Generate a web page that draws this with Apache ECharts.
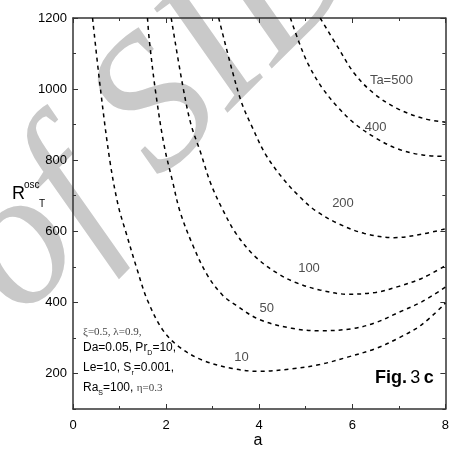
<!DOCTYPE html>
<html><head><meta charset="utf-8">
<script src="https://cdn.jsdelivr.net/npm/echarts@6/dist/echarts.min.js"></script>
<style>html,body{margin:0;padding:0;background:#fff}#c{width:452px;height:452px}</style>
</head><body><div id="c"></div>
<script>
// Data: [a, R_T^osc]
const ta10  = [[0.42,1200],[0.59,1000],[0.79,800],[0.97,673],[1.14,596],[1.36,500],[1.6,406],[1.93,322],[2.28,275],[2.77,238],[3.42,214],[4.0,206],[4.7,213],[5.3,225],[5.9,246],[6.5,270],[7.0,300],[7.5,338],[8.0,398]];
const ta50  = [[1.6,1200],[1.64,1137],[1.78,987],[1.96,840],[2.14,740],[2.3,655],[2.57,562],[2.88,478],[3.2,422],[3.5,392],[4.0,352],[4.7,327],[5.3,320],[6.0,326],[6.5,343],[7.0,372],[7.5,402],[8.0,443]];
const ta100 = [[2.11,1200],[2.35,1015],[2.53,903],[2.74,822],[2.96,734],[3.2,665],[3.5,594],[3.92,528],[4.4,481],[4.8,455],[5.3,435],[5.9,423],[6.5,428],[7.0,445],[7.5,468],[8.0,503]];
const ta200 = [[3.13,1200],[3.42,1052],[3.63,959],[3.85,893],[4.13,818],[4.48,753],[4.84,701],[5.2,659],[5.69,622],[6.26,594],[6.9,582],[7.54,593],[8.0,607]];
const ta400 = [[4.67,1200],[4.84,1137],[5.05,1071],[5.34,1006],[5.69,949],[6.05,903],[6.47,865],[6.97,832],[7.54,814],[8.0,811]];
const ta500 = [[5.31,1200],[5.69,1118],[6.05,1043],[6.47,987],[6.97,945],[7.54,917],[8.0,907]];
const curveLabels = [[6.84,1024,'Ta=500'],[6.5,892,'400'],[5.8,679,'200'],[5.07,496,'100'],[4.16,384,'50'],[3.62,246,'10']];
const yMajor = [200,400,600,800,1000,1200];
const yMinor = [100,300,500,700,900,1100];
const xMin = 0, xMax = 8, xInterval = 2;
const yMin = 100, yMax = 1200;

const FONT = "'Liberation Sans',Arial,sans-serif";
const SERIF = "'Liberation Serif','Times New Roman',serif";
const chart = echarts.init(document.getElementById('c'), null, {renderer:'canvas'});
const lineCol = '#333';
function xAx(pos, showLabel){
  return {type:'value', position:pos, min:xMin, max:xMax, interval:xInterval,
    axisLine:{show:true, onZero:false, lineStyle:{color:lineCol, width:1.5}},
    axisTick:{show:true, inside:true, length:5, lineStyle:{color:lineCol, width:1}},
    minorTick:{show:true, splitNumber:2, length:3, lineStyle:{color:lineCol, width:1}},
    axisLabel:{show:showLabel, color:'#000', fontFamily:FONT, fontSize:13, margin:10},
    splitLine:{show:false}, minorSplitLine:{show:false}};
}
function yAx(pos, vals, len, showLabel, showLine){
  return {type:'value', position:pos, min:yMin, max:yMax,
    axisLine:{show:showLine, onZero:false, lineStyle:{color:lineCol, width:1.5}},
    axisTick:{show:true, inside:true, length:len, customValues:vals, lineStyle:{color:lineCol, width:1}},
    axisLabel:{show:showLabel, customValues:vals, formatter:v=>String(v), color:'#000', fontFamily:FONT, fontSize:13, margin:6},
    splitLine:{show:false}};
}
const curves = [ta10, ta50, ta100, ta200, ta400, ta500];
const series = curves.map(d => ({type:'line', data:d, xAxisIndex:0, yAxisIndex:0, showSymbol:false, smooth:0.35,
  lineStyle:{color:'#000', width:1.5, type:[4,4]}, silent:true, clip:true, z:3}));
series.push({type:'scatter', data:curveLabels, xAxisIndex:0, yAxisIndex:0, symbolSize:0, silent:true, z:4,
  label:{show:true, position:'inside', formatter:p=>p.data[2], color:'#222', fontFamily:FONT, fontSize:13}});

chart.setOption({
  animation:false,
  grid:{left:73, right:4, top:18, bottom:43, containLabel:false},
  xAxis:[xAx('bottom', true), xAx('top', false)],
  yAxis:[yAx('left', yMajor, 5, true, true), yAx('left', yMinor, 3, false, false),
         yAx('right', yMajor, 5, false, true), yAx('right', yMinor, 3, false, false)],
  series:series,
  graphic:[
    {type:'text', x:-15, y:284, rotation:Math.PI/4, z:-100, silent:true,
      style:{text:'of SID', font:'italic 192px '+SERIF, fill:'#c9c9c9', align:'left', verticalAlign:'middle'}},
    {type:'text', x:258, y:441, style:{text:'a', font:'16px '+FONT, fill:'#000', align:'center', verticalAlign:'middle'}},
    {type:'text', x:12, y:194, style:{text:'R', font:'18px '+FONT, fill:'#000', verticalAlign:'middle'}},
    {type:'text', x:24, y:185, style:{text:'osc', font:'10px '+FONT, fill:'#000', verticalAlign:'middle'}},
    {type:'text', x:39, y:204, style:{text:'T', font:'10px '+FONT, fill:'#000', verticalAlign:'middle'}},
    {type:'text', x:83, y:332, style:{text:'ξ=0.5, λ=0.9,', font:'11px '+SERIF, fill:'#444', verticalAlign:'middle'}},
    {type:'text', x:83, y:348, style:{text:'{a|Da=0.05, Pr}{s|D}{a|=10,}', verticalAlign:'middle',
      rich:{a:{fontFamily:FONT, fontSize:12, fill:'#000', lineHeight:16}, s:{fontFamily:FONT, fontSize:7, fill:'#000', lineHeight:8, padding:[10,0,0,0]}}}},
    {type:'text', x:83, y:368, style:{text:'{a|Le=10, S}{s|r}{a|=0.001,}', verticalAlign:'middle',
      rich:{a:{fontFamily:FONT, fontSize:12, fill:'#000', lineHeight:16}, s:{fontFamily:FONT, fontSize:7, fill:'#000', lineHeight:8, padding:[10,0,0,0]}}}},
    {type:'text', x:83, y:388, style:{text:'{a|Ra}{s|S}{a|=100, }{t|η=0.3}', verticalAlign:'middle',
      rich:{a:{fontFamily:FONT, fontSize:12, fill:'#000', lineHeight:16}, s:{fontFamily:FONT, fontSize:7, fill:'#000', lineHeight:8, padding:[10,0,0,0]}, t:{fontFamily:SERIF, fontSize:11, fill:'#444', lineHeight:16}}}},
    {type:'text', x:375, y:378, style:{text:'{b|Fig.} {n|3} {b|c}', verticalAlign:'middle',
      rich:{b:{fontFamily:FONT, fontSize:18, fontWeight:'bold', fill:'#000'}, n:{fontFamily:FONT, fontSize:18, fill:'#000'}}}}
  ]
});
</script></body></html>
